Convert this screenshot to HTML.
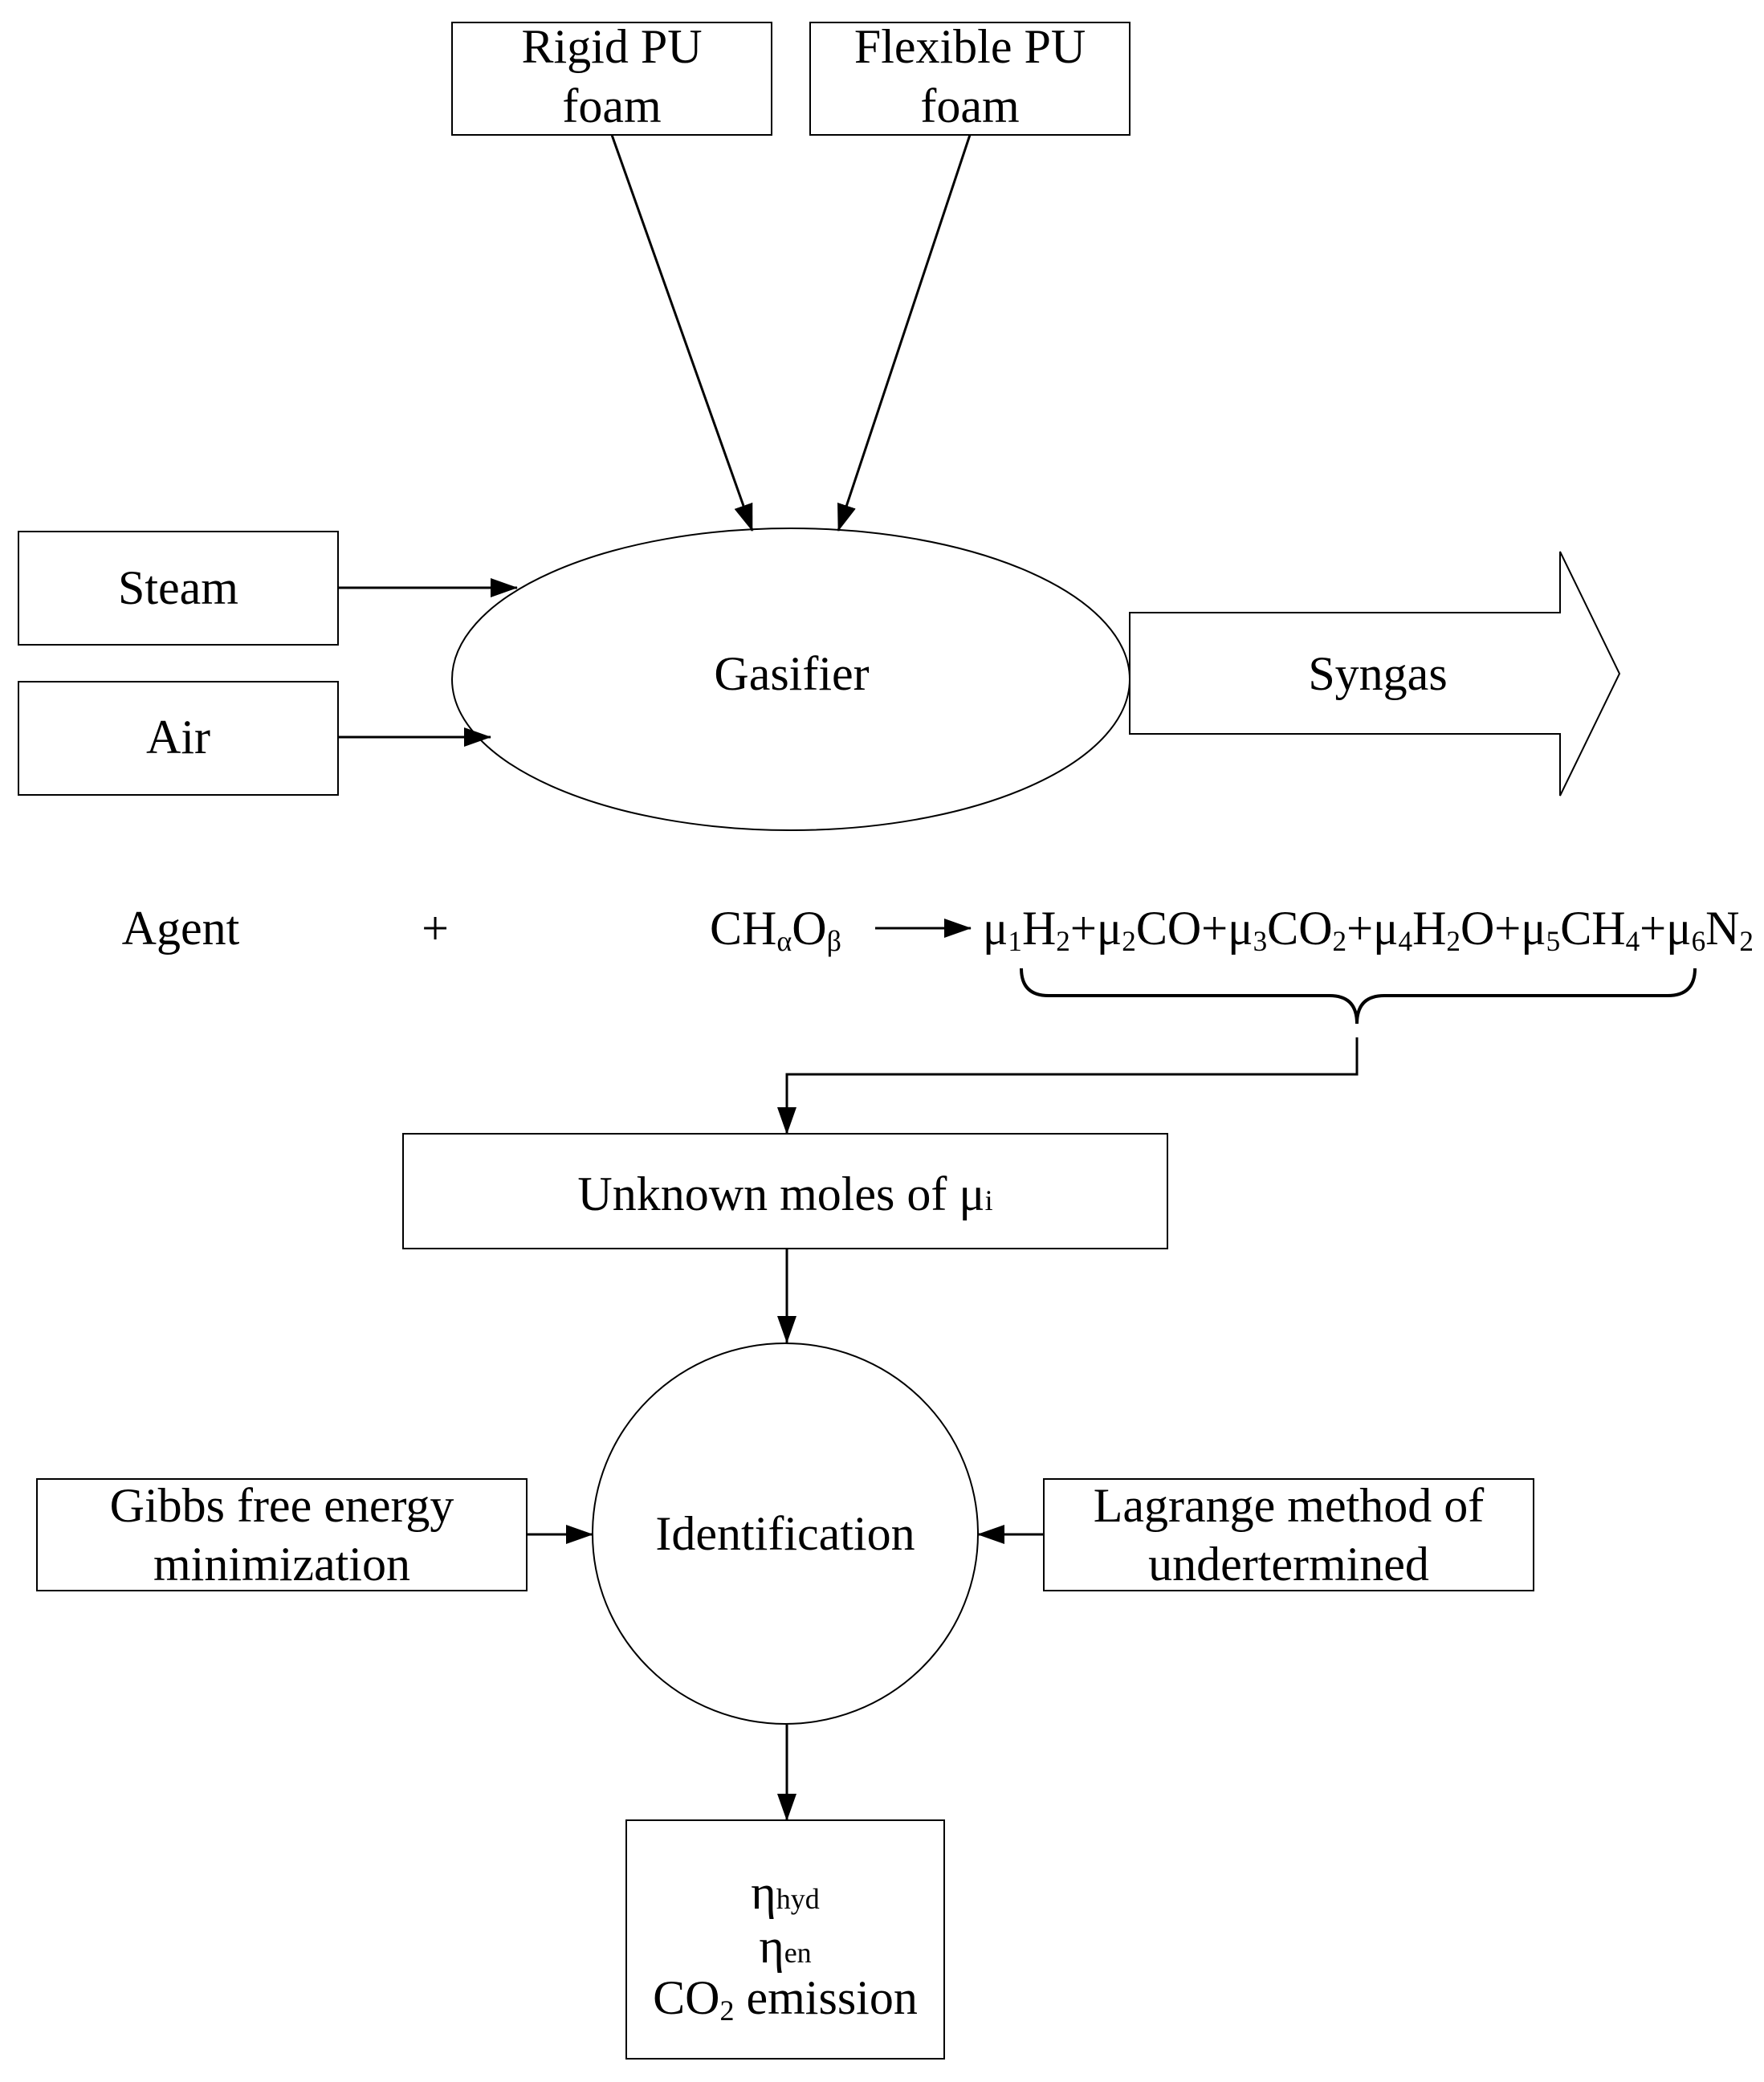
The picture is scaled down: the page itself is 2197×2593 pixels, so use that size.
<!DOCTYPE html>
<html><head><meta charset="utf-8"><style>html,body{margin:0;padding:0;background:#fff}svg{display:block}</style></head>
<body>
<svg width="2197" height="2593" viewBox="0 0 2197 2593" xmlns="http://www.w3.org/2000/svg" font-family="Liberation Serif, serif" font-size="60" fill="none" stroke="#000" stroke-width="2">
<defs><marker id="a" markerWidth="10" markerHeight="10" refX="9" refY="5" orient="auto" markerUnits="userSpaceOnUse" viewBox="0 0 10 10"><path d="M0,0 L10,5 L0,10 z" fill="#000" stroke="none" transform="scale(1)"/></marker>
<marker id="b" markerWidth="34" markerHeight="24" refX="33" refY="12" orient="auto" markerUnits="userSpaceOnUse"><path d="M0,0 L34,12 L0,24 z" fill="#000" stroke="none"/></marker></defs>
<rect x="563" y="28" width="398" height="140"/>
<rect x="1009" y="28" width="398" height="140"/>
<rect x="23" y="662" width="398" height="141"/>
<rect x="23" y="849" width="398" height="141"/>
<ellipse cx="985" cy="846" rx="422" ry="188"/>
<path d="M1407,763 H1943 V687 L2017,839 L1943,991 V914 H1407 Z"/>
<g stroke-width="3" marker-end="url(#b)">
<line x1="762" y1="168" x2="937" y2="661"/>
<line x1="1208" y1="168" x2="1044" y2="661"/>
<line x1="421" y1="732" x2="644" y2="732"/>
<line x1="421" y1="918" x2="611" y2="918"/>
<line x1="1090" y1="1156" x2="1209" y2="1156"/>
<polyline points="1690,1292 1690,1338 980,1338 980,1412"/>
<line x1="980" y1="1555" x2="980" y2="1672"/>
<line x1="656" y1="1911" x2="738" y2="1911"/>
<line x1="1300" y1="1911" x2="1218" y2="1911"/>
<line x1="980" y1="2148" x2="980" y2="2267"/>
</g>
<path d="M1272,1206 Q1272,1240 1306,1240 H1656 Q1690,1240 1690,1275 Q1690,1240 1724,1240 H2077 Q2111,1240 2111,1206" stroke-width="4"/>
<rect x="502" y="1412" width="952" height="143"/>
<ellipse cx="978" cy="1910" rx="240" ry="237"/>
<rect x="46" y="1842" width="610" height="139"/>
<rect x="1300" y="1842" width="610" height="139"/>
<rect x="780" y="2267" width="396" height="297"/>
<g fill="#000" stroke="none" text-anchor="middle">
<text x="762" y="78">Rigid PU</text><text x="762" y="152">foam</text>
<text x="1208" y="78">Flexible PU</text><text x="1208" y="152">foam</text>
<text x="222" y="752">Steam</text>
<text x="222" y="938">Air</text>
<text x="986" y="859">Gasifier</text>
<text x="1716" y="859">Syngas</text>
<text x="225" y="1176">Agent</text>
<text x="542" y="1176">+</text>
<text x="978" y="1507">Unknown moles of μ<tspan font-size="36">i</tspan></text>
<text x="978" y="1930">Identification</text>
<text x="351" y="1895">Gibbs free energy</text><text x="351" y="1968">minimization</text>
<text x="1605" y="1895">Lagrange method of</text><text x="1605" y="1968">undertermined</text>
<text x="978" y="2377">η<tspan font-size="36">hyd</tspan></text>
<text x="978" y="2444">η<tspan font-size="36">en</tspan></text>
<text x="978" y="2508">CO<tspan font-size="36" dy="8">2</tspan><tspan dy="-8"> emission</tspan></text>
</g>
<g fill="#000" stroke="none">
<text x="884" y="1176">CH<tspan font-size="36" dy="8">α</tspan><tspan dy="-8">O</tspan><tspan font-size="36" dy="8">β</tspan></text>
<text x="1224" y="1176" textLength="960" lengthAdjust="spacingAndGlyphs">μ<tspan font-size="36" dy="8">1</tspan><tspan dy="-8">H</tspan><tspan font-size="36" dy="8">2</tspan><tspan dy="-8">+μ</tspan><tspan font-size="36" dy="8">2</tspan><tspan dy="-8">CO+μ</tspan><tspan font-size="36" dy="8">3</tspan><tspan dy="-8">CO</tspan><tspan font-size="36" dy="8">2</tspan><tspan dy="-8">+μ</tspan><tspan font-size="36" dy="8">4</tspan><tspan dy="-8">H</tspan><tspan font-size="36" dy="8">2</tspan><tspan dy="-8">O+μ</tspan><tspan font-size="36" dy="8">5</tspan><tspan dy="-8">CH</tspan><tspan font-size="36" dy="8">4</tspan><tspan dy="-8">+μ</tspan><tspan font-size="36" dy="8">6</tspan><tspan dy="-8">N</tspan><tspan font-size="36" dy="8">2</tspan></text>
</g>
</svg>
</body></html>
